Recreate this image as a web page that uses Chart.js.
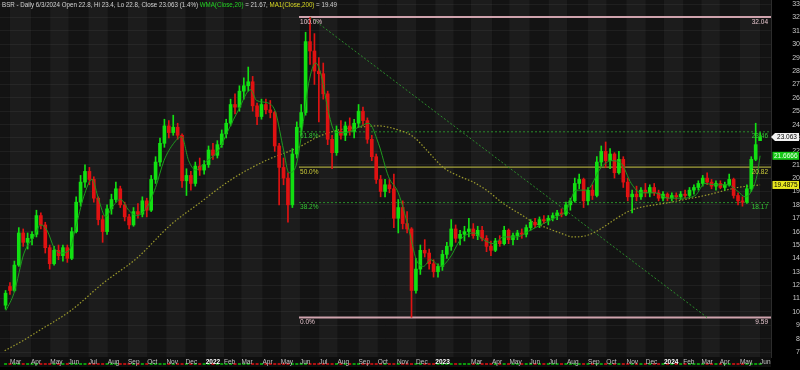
<!DOCTYPE html>
<html>
<head>
<meta charset="utf-8">
<title>BSR Daily</title>
<script src="https://cdn.jsdelivr.net/npm/chart.js@4.4.1/dist/chart.umd.min.js"></script>
<style>
    html, body { margin: 0; padding: 0; background: #000; }
    #wrap { width: 800px; height: 370px; }
</style>
</head>
<body>
<div id="wrap"><canvas id="bsr-chart" width="800" height="370"></canvas></div>
<script>
/* ---- BSR daily chart: weekly candles, WMA20, MA200, fibonacci levels ---- */
var FONT = "'Liberation Sans', Arial, Helvetica, sans-serif";
var UP = '#12e012', DOWN = '#e01212';

/* month labels, Mar 2021 .. Jun 2024 (Feb 2023 label is hidden in the source) */
var monthLabels = ['Mar', 'Apr', 'May', 'Jun', 'Jul', 'Aug', 'Sep', 'Oct', 'Nov', 'Dec',
    '2022', 'Feb', 'Mar', 'Apr', 'May', 'Jun', 'Jul', 'Aug', 'Sep', 'Oct', 'Nov', 'Dec',
    '2023', '', 'Mar', 'Apr', 'May', 'Jun', 'Jul', 'Aug', 'Sep', 'Oct', 'Nov', 'Dec',
    '2024', 'Feb', 'Mar', 'Apr', 'May', 'Jun'];
var yearLabels = ['2022', '2023', '2024'];

/* exchange holidays, used to count trading days */
var holidays = ['2021-04-02', '2021-05-31', '2021-07-05', '2021-09-06', '2021-11-25', '2021-12-24',
    '2022-01-17', '2022-02-21', '2022-04-15', '2022-05-30', '2022-06-20', '2022-07-04', '2022-09-05',
    '2022-11-24', '2022-12-26', '2023-01-02', '2023-01-16', '2023-02-20', '2023-04-07', '2023-05-29',
    '2023-06-19', '2023-07-04', '2023-09-04', '2023-11-23', '2023-12-25', '2024-01-01', '2024-01-15',
    '2024-02-19', '2024-03-29', '2024-05-27'];

/* weekly OHLC, first bar = week of Feb 22 2021, last bar = Jun 3 2024 */
var opens = [
    10.5, 11.9, 11.6, 13.5, 15.9, 15.2, 15.5, 15.8, 17.2, 16.5,
    14.8, 13.6, 14.6, 14.2, 14.8, 14.0, 16.0, 18.2, 19.7, 20.5,
    19.9, 18.5, 16.9, 16.0, 17.7, 18.4, 19.2, 18.0, 17.1, 16.5,
    17.5, 17.3, 18.3, 17.6, 19.9, 21.2, 22.6, 23.9, 23.4, 23.8,
    23.2, 19.8, 20.2, 19.6, 20.9, 20.6, 21.0, 22.1, 21.7, 22.5,
    23.3, 24.1, 25.5, 25.3, 26.5, 26.9, 27.2, 25.4, 24.6, 25.5,
    25.1, 24.9, 22.4, 20.8, 20.0, 18.0, 21.8, 23.8, 24.9, 30.2,
    29.5, 28.0, 27.8, 26.3, 22.9, 21.9, 23.5, 23.2, 23.9, 23.5,
    24.1, 25.0, 24.3, 22.9, 21.6, 19.9, 19.0, 19.5, 19.2, 17.0,
    17.8, 16.6, 16.2, 11.6, 13.2, 14.6, 14.4, 13.6, 13.0, 13.4,
    14.3, 14.9, 16.2, 15.5, 15.8, 16.0, 16.2, 15.7, 16.1, 15.5,
    14.9, 14.6, 15.3, 15.1, 16.1, 15.4, 15.7, 15.9, 15.8, 16.3,
    16.7, 16.5, 16.9, 16.8, 17.0, 17.2, 17.4, 17.3, 18.0, 18.3,
    19.6, 19.9, 18.3, 19.1, 18.7, 21.2, 22.0, 21.3, 21.8, 20.4,
    21.4, 19.7, 18.6, 18.8, 18.6, 19.1, 18.9, 19.3, 18.9, 18.5,
    18.8, 18.5, 18.7, 18.6, 18.8, 18.7, 19.1, 19.3, 19.6, 20.0,
    19.7, 19.4, 19.6, 19.3, 19.5, 19.9, 18.7, 18.3, 18.2, 19.2,
    21.4, 22.8];
var highs = [
    11.6, 12.2, 13.8, 16.3, 16.2, 15.9, 16.0, 17.6, 17.4, 16.7,
    15.0, 14.9, 15.0, 15.0, 15.0, 16.3, 18.6, 20.2, 21.0, 20.8,
    20.1, 18.6, 17.2, 18.0, 18.8, 19.7, 19.4, 18.2, 17.3, 17.8,
    18.1, 18.6, 18.5, 20.2, 21.6, 23.0, 24.4, 24.3, 24.7, 24.1,
    23.3, 20.7, 20.5, 21.2, 21.5, 21.3, 22.4, 22.6, 22.8, 23.6,
    24.4, 25.9, 26.3, 26.9, 27.5, 28.3, 27.6, 25.6, 25.9, 25.9,
    25.8, 25.0, 22.6, 21.5, 20.4, 22.2, 24.2, 25.5, 30.9, 32.0,
    30.8, 29.0, 28.6, 26.5, 23.2, 23.9, 24.3, 24.2, 24.5, 24.4,
    25.5, 25.3, 24.5, 23.2, 21.8, 20.2, 19.9, 19.9, 20.3, 18.4,
    18.3, 17.5, 16.3, 14.0, 15.0, 15.4, 14.7, 13.9, 13.6, 14.6,
    15.2, 16.9, 16.5, 16.1, 16.4, 17.0, 16.6, 16.4, 16.4, 15.7,
    15.3, 15.5, 15.7, 16.4, 16.2, 15.9, 16.1, 16.2, 16.5, 16.9,
    17.0, 17.1, 17.2, 17.2, 17.4, 17.6, 17.7, 18.2, 18.5, 20.0,
    20.3, 20.0, 19.3, 19.5, 21.6, 22.4, 22.7, 22.2, 21.9, 22.0,
    21.6, 20.0, 19.1, 19.4, 19.3, 19.6, 19.5, 19.6, 19.1, 19.0,
    18.9, 18.9, 18.9, 19.0, 19.1, 19.3, 19.5, 19.8, 20.2, 20.4,
    19.9, 19.8, 19.8, 19.7, 20.3, 20.0, 18.9, 18.6, 19.5, 21.6,
    24.1, 23.4];
var lows = [
    10.2, 11.3, 11.5, 13.4, 14.9, 14.7, 15.0, 15.6, 16.2, 14.4,
    13.2, 13.5, 13.9, 13.8, 13.7, 13.9, 15.9, 17.9, 19.3, 19.5,
    18.2, 16.5, 15.2, 15.8, 17.3, 18.2, 17.8, 16.8, 16.2, 16.4,
    17.0, 17.1, 17.1, 17.5, 19.6, 20.9, 22.3, 23.0, 23.2, 22.9,
    19.3, 18.7, 19.1, 19.4, 20.2, 20.3, 20.8, 21.4, 21.5, 22.3,
    23.0, 23.9, 24.8, 25.0, 25.9, 26.5, 25.0, 24.0, 24.4, 24.8,
    24.5, 22.0, 18.0, 19.5, 16.7, 17.8, 21.5, 23.2, 24.7, 28.5,
    27.0, 24.2, 25.9, 22.5, 20.7, 21.7, 22.9, 22.8, 23.2, 23.0,
    23.8, 23.9, 22.6, 21.3, 19.6, 18.6, 18.6, 18.9, 16.3, 15.9,
    16.2, 15.9, 9.6, 11.4, 12.8, 14.1, 13.2, 12.6, 12.6, 13.1,
    14.0, 14.6, 15.2, 15.0, 15.3, 15.6, 15.5, 15.4, 15.3, 14.5,
    14.2, 14.5, 14.9, 15.0, 15.1, 15.0, 15.4, 15.5, 15.6, 16.1,
    16.3, 16.3, 16.6, 16.5, 16.8, 16.9, 17.1, 17.2, 17.6, 18.2,
    19.2, 17.8, 18.0, 18.4, 18.6, 20.9, 20.8, 20.7, 20.0, 20.3,
    19.3, 18.3, 17.4, 18.3, 18.4, 18.6, 18.6, 18.7, 18.3, 18.3,
    18.3, 18.3, 18.4, 18.4, 18.5, 18.6, 18.8, 19.1, 19.4, 19.5,
    19.2, 19.1, 19.2, 19.1, 19.4, 18.5, 18.0, 17.9, 18.1, 19.0,
    21.3, 22.8];
var closes = [
    11.4, 11.6, 13.5, 15.9, 15.2, 15.5, 15.8, 17.2, 16.5, 14.8,
    13.6, 14.6, 14.2, 14.8, 14.0, 16.0, 18.2, 19.7, 20.5, 19.9,
    18.5, 16.9, 16.0, 17.7, 18.4, 19.2, 18.0, 17.1, 16.5, 17.5,
    17.3, 18.3, 17.6, 19.9, 21.2, 22.6, 23.9, 23.4, 23.8, 23.2,
    19.8, 20.2, 19.6, 20.9, 20.6, 21.0, 22.1, 21.7, 22.5, 23.3,
    24.1, 25.5, 25.3, 26.5, 26.9, 27.2, 25.4, 24.6, 25.5, 25.1,
    24.9, 22.4, 20.8, 20.0, 18.0, 21.8, 23.8, 24.9, 30.2, 29.5,
    28.0, 27.8, 26.3, 22.9, 21.9, 23.5, 23.2, 23.9, 23.5, 24.1,
    25.0, 24.3, 22.9, 21.6, 19.9, 19.0, 19.5, 19.2, 17.0, 17.8,
    16.6, 16.2, 11.6, 13.2, 14.6, 14.4, 13.6, 13.0, 13.4, 14.3,
    14.9, 16.2, 15.5, 15.8, 16.0, 16.2, 15.7, 16.1, 15.5, 14.9,
    14.6, 15.3, 15.1, 16.1, 15.4, 15.7, 15.9, 15.8, 16.3, 16.7,
    16.5, 16.9, 16.8, 17.0, 17.2, 17.4, 17.3, 18.0, 18.3, 19.6,
    19.9, 18.3, 19.1, 18.7, 21.2, 22.0, 21.3, 21.8, 20.4, 21.4,
    19.7, 18.6, 18.8, 18.6, 19.1, 18.9, 19.3, 18.9, 18.5, 18.8,
    18.5, 18.7, 18.6, 18.8, 18.7, 19.1, 19.3, 19.6, 20.0, 19.7,
    19.4, 19.6, 19.3, 19.5, 19.9, 18.7, 18.3, 18.2, 19.2, 21.4,
    22.5, 23.063];

/* WMA(Close,20), read at week positions (week 0 = Mar 1 2021) */
var wmaWeeks = [-0.9, 0.9, 3.2, 5.4, 7.0, 8.4, 10.0, 11.5, 13.4, 14.9,
    16.7, 18.6, 20.1, 21.7, 23.1, 25.1, 26.9, 28.7, 31.0, 33.0,
    34.9, 37.1, 38.9, 40.5, 42.1, 43.9, 47.3, 49.5, 51.8, 54.5,
    55.9, 58.6, 60.2, 62.0, 63.2, 64.7, 66.1, 67.7, 69.3, 70.6,
    72.2, 73.8, 76.1, 79.0, 81.3, 83.5, 85.8, 88.0, 90.3, 92.1,
    93.7, 95.3, 97.6, 99.8, 102.1, 105.0, 107.3, 109.6, 111.8, 114.8,
    117.9, 120.9, 123.8, 126.1, 128.3, 130.6, 134.0, 136.3, 138.5, 140.8,
    143.0, 146.2, 149.2, 152.1, 155.3, 157.5, 159.8, 162.7, 165.0, 166.6,
    168.0, 169.3, 170.0];
var wmaValues = [10.1, 11.4, 14.4, 15.6, 16.5, 16.1, 14.8, 14.4, 14.6, 16.3,
    18.6, 19.9, 18.4, 17.1, 17.8, 18.4, 17.6, 17.2, 17.8, 19.3,
    21.3, 22.6, 23.1, 21.3, 20.6, 21.1, 22.1, 23.6, 25.1, 26.6,
    25.8, 25.6, 24.9, 22.1, 20.4, 20.8, 23.3, 27.1, 28.6, 27.6,
    24.9, 23.4, 23.4, 23.8, 24.1, 22.6, 20.1, 18.9, 16.3, 13.9,
    13.4, 13.9, 13.4, 14.1, 15.4, 15.9, 15.4, 15.1, 15.6, 15.6,
    16.1, 16.6, 17.1, 17.6, 19.1, 19.1, 20.8, 21.3, 21.1, 19.6,
    18.9, 18.9, 18.5, 18.5, 18.7, 19.6, 19.5, 19.5, 19.0, 18.6,
    19.0, 20.2, 21.67];

/* MA1(Close,200) */
var maWeeks = [-1.2, 3.2, 6.1, 13.8, 21.3, 28.7, 36.4, 42.8, 50.2, 57.9,
    65.4, 69.9, 74.5, 79.0, 83.5, 88.0, 91.4, 94.4, 98.2, 102.1,
    105.0, 108.0, 111.8, 115.7, 118.6, 121.5, 124.7, 127.7, 130.6, 132.2,
    134.3, 137.5, 140.8, 149.8, 157.5, 165.0, 170.0];
var maValues = [7.1, 7.9, 8.5, 10.1, 12.2, 14.0, 16.5, 18.1, 19.9, 21.3,
    22.3, 23.1, 23.6, 23.8, 23.9, 23.6, 23.1, 22.1, 20.8, 20.1,
    19.7, 19.1, 18.1, 17.3, 16.7, 16.3, 15.9, 15.6, 15.7, 15.9,
    16.3, 17.0, 17.6, 18.2, 18.7, 19.3, 19.49];

/* fibonacci retracement from the Jun 2022 high to the Nov 2022 low */
var fibLevels = [32.04, 23.46, 20.82, 18.17, 9.59];
var fibNames = ['100.0%', '61.8%', '50.0%', '38.2%', '0.0%'];
var fibLineColors = ['#cfa3ad', '#2a8c2a', '#a4a23a', '#2a8c2a', '#cfa3ad'];
var fibTextColors = ['#e4c4cc', '#34c834', '#cccc3a', '#34c834', '#e4c4cc'];

var lastWma = 21.6666, lastMa = 19.4875, pctChange = '1.4%';

/* ---- axis geometry (trading days since Mar 1 2021) ---- */
var DAYS_PER_BAR = 4.824;
var X_MIN = -10.9, X_MAX = 832;
var Y_MIN = 6.63, Y_MAX = 33.31;
var FIB_START_DAY = 316, DIAG_START_DAY = 328, DIAG_END_DAY = 762;

var holidaySet = {};
holidays.forEach(function(d) { holidaySet[d] = true; });

function tradingDaysBefore(y, m, d) {
    var n = 0, end = Date.UTC(y, m, d);
    for (var t = Date.UTC(2021, 2, 1); t < end; t += 864e5) {
        var dt = new Date(t), wd = dt.getUTCDay();
        if (wd === 0 || wd === 6) continue;
        if (holidaySet[dt.toISOString().slice(0, 10)]) continue;
        n++;
    }
    return n;
}
var monthTicks = monthLabels.map(function(_, k) { return tradingDaysBefore(2021, 2 + k, 1); });

var barDays = closes.map(function(_, i) { return (i - 1) * DAYS_PER_BAR; });
function isUp(i) { return closes[i] >= opens[i]; }
function candleColor(c) { return isUp(c.dataIndex) ? UP : DOWN; }

var datasets = [
    {
        type: 'line', label: 'WMA20',
        data: wmaWeeks.map(function(w, i) { return { x: w * DAYS_PER_BAR, y: wmaValues[i] }; }),
        borderColor: '#1e9a1e', borderWidth: 1, pointRadius: 0, cubicInterpolationMode: 'monotone'
    },
    {
        type: 'bar', label: 'body',
        data: barDays.map(function(x, i) { return { x: x, y: [opens[i], closes[i]] }; }),
        backgroundColor: candleColor, barThickness: 3, minBarLength: 1, grouped: false
    },
    {
        type: 'bar', label: 'wick',
        data: barDays.map(function(x, i) { return { x: x, y: [lows[i], highs[i]] }; }),
        backgroundColor: candleColor, barThickness: 1, grouped: false
    },
    {
        type: 'line', label: 'MA200',
        data: maWeeks.map(function(w, i) { return { x: w * DAYS_PER_BAR, y: maValues[i] }; }),
        borderColor: '#9c9a2c', borderWidth: 1.2, borderDash: [1.5, 1.8], pointRadius: 0,
        cubicInterpolationMode: 'monotone'
    },
    {
        type: 'line', label: 'trend',
        data: [{ x: DIAG_START_DAY, y: fibLevels[0] }, { x: DIAG_END_DAY, y: fibLevels[4] }],
        borderColor: '#2a8a2a', borderWidth: 1, borderDash: [2, 2], pointRadius: 0
    }
];
fibLevels.forEach(function(lvl, k) {
    datasets.push({
        type: 'line', label: fibNames[k],
        data: [{ x: FIB_START_DAY, y: lvl }, { x: X_MAX, y: lvl }],
        borderColor: fibLineColors[k],
        borderWidth: (k === 0 || k === 4) ? 2 : (k === 2 ? 1.2 : 1),
        borderDash: (k === 1 || k === 3) ? [2, 2] : [],
        pointRadius: 0
    });
});

/* ---- background: month bands and up/down strip ---- */
var backgroundPlugin = {
    id: 'bsrBackground',
    beforeDraw: function(chart) {
        var ctx = chart.ctx, a = chart.chartArea, xs = chart.scales.x;
        ctx.save();
        ctx.fillStyle = '#000';
        ctx.fillRect(0, 0, chart.width, chart.height);
        ctx.fillStyle = '#131313';
        ctx.fillRect(a.left, a.top, a.right - a.left, a.bottom - a.top);
        ctx.fillStyle = '#1c1c1c';
        for (var m = 0; m < monthTicks.length; m += 2) {
            var x0 = xs.getPixelForValue(monthTicks[m]);
            var x1 = m + 1 < monthTicks.length ? xs.getPixelForValue(monthTicks[m + 1]) : a.right;
            ctx.fillRect(x0, a.top, Math.min(x1, a.right) - x0, a.bottom - a.top);
        }
        ctx.fillStyle = '#0e0e0e';
        ctx.fillRect(a.left, a.bottom, a.right - a.left, 10);
        barDays.forEach(function(x, i) {
            ctx.fillStyle = isUp(i) ? '#0c9a0c' : '#b01010';
            ctx.fillRect(xs.getPixelForValue(x) - 1.5, a.bottom + 6, 3, 2);
        });
        ctx.restore();
    }
};

/* ---- overlay: fib labels, price tags, header ---- */
var overlayPlugin = {
    id: 'bsrOverlay',
    afterDraw: function(chart) {
        var ctx = chart.ctx, a = chart.chartArea, xs = chart.scales.x, ys = chart.scales.y;
        ctx.save();

        ctx.font = '6.5px ' + FONT;
        ctx.textBaseline = 'top';
        var fx = xs.getPixelForValue(FIB_START_DAY);
        fibLevels.forEach(function(lvl, k) {
            var py = ys.getPixelForValue(lvl);
            ctx.fillStyle = fibTextColors[k];
            ctx.textAlign = 'left';
            ctx.fillText(fibNames[k], fx + 1, py + 1.5);
            ctx.textAlign = 'right';
            ctx.fillText(lvl.toFixed(2), a.right - 3, py + 1.5);
        });

        function tag(value, text, bg, fg, arrow) {
            var y = ys.getPixelForValue(value);
            var x0 = a.right + (arrow ? 4 : 1.5), x1 = chart.width - 1;
            ctx.fillStyle = bg;
            ctx.beginPath();
            if (arrow) { ctx.moveTo(a.right, y); ctx.lineTo(x0, y - 4); } else { ctx.moveTo(x0, y - 4); }
            ctx.lineTo(x1, y - 4);
            ctx.lineTo(x1, y + 4);
            ctx.lineTo(x0, y + 4);
            ctx.closePath();
            ctx.fill();
            ctx.fillStyle = fg;
            ctx.textAlign = 'center';
            ctx.textBaseline = 'middle';
            ctx.font = '6.5px ' + FONT;
            ctx.fillText(text, (x0 + x1) / 2, y + 0.5);
        }
        tag(lastMa, String(lastMa), '#e8e820', '#000', false);
        tag(lastWma, String(lastWma), '#18c818', '#eaffea', false);
        tag(closes[closes.length - 1], String(closes[closes.length - 1]), '#f2f2f2', '#000', true);

        /* header line */
        var n = closes.length - 1;
        var parts = [
            ['BSR - Daily 6/3/2024 Open ' + opens[n] + ', Hi ' + highs[n] + ', Lo ' + lows[n] +
                ', Close ' + closes[n] + ' (' + pctChange + ') ', '#d2d2d2'],
            ['WMA(Close,20)', '#22d022'],
            [' = ' + lastWma.toFixed(2) + ', ', '#d2d2d2'],
            ['MA1(Close,200)', '#d8d822'],
            [' = ' + lastMa.toFixed(2), '#d2d2d2']
        ];
        ctx.font = '7px ' + FONT;
        ctx.textAlign = 'left';
        ctx.textBaseline = 'middle';
        var total = 0;
        parts.forEach(function(p) { total += ctx.measureText(p[0]).width; });
        ctx.translate(2, 5);
        ctx.scale(335 / total, 1);
        var cx = 0;
        parts.forEach(function(p) {
            ctx.fillStyle = p[1];
            ctx.fillText(p[0], cx, 0);
            cx += ctx.measureText(p[0]).width;
        });
        ctx.restore();
    }
};

new Chart(document.getElementById('bsr-chart'), {
    type: 'bar',
    data: { datasets: datasets },
    options: {
        responsive: false,
        animation: false,
        layout: { padding: 0 },
        plugins: { legend: { display: false }, tooltip: { enabled: false } },
        scales: {
            x: {
                type: 'linear', min: X_MIN, max: X_MAX, offset: false,
                afterBuildTicks: function(s) {
                    s.ticks = monthTicks.map(function(v) { return { value: v }; });
                },
                afterFit: function(s) {
                    s.height = 13;
                    s.paddingLeft = 0;
                    s.paddingRight = 0;
                },
                grid: { display: false, drawTicks: false },
                border: { display: false },
                ticks: {
                    autoSkip: false, maxRotation: 0, minRotation: 0, align: 'start', padding: 1,
                    callback: function(v, i) { return monthLabels[i]; },
                    color: function(c) {
                        return yearLabels.indexOf(monthLabels[c.index]) >= 0 ? '#ffffff' : '#c4c4c4';
                    },
                    font: function(c) {
                        var yr = yearLabels.indexOf(monthLabels[c.index]) >= 0;
                        return { size: 6.5, family: FONT, weight: yr ? 'bold' : 'normal' };
                    }
                }
            },
            y: {
                type: 'linear', position: 'right', min: Y_MIN, max: Y_MAX,
                afterFit: function(s) {
                    s.width = 29;
                    s.paddingTop = 0;
                    s.paddingBottom = 0;
                },
                grid: {
                    color: 'rgba(255,255,255,0.05)', drawTicks: true, tickLength: 17,
                    tickColor: 'rgba(0,0,0,0)'
                },
                border: { display: true, color: '#2c2c2c' },
                ticks: {
                    stepSize: 1, includeBounds: false, crossAlign: 'far', padding: 3,
                    color: '#c8c8c8', font: { size: 7, family: FONT },
                    callback: function(v) { return String(v); }
                }
            }
        }
    },
    plugins: [backgroundPlugin, overlayPlugin]
});
</script>
</body>
</html>
